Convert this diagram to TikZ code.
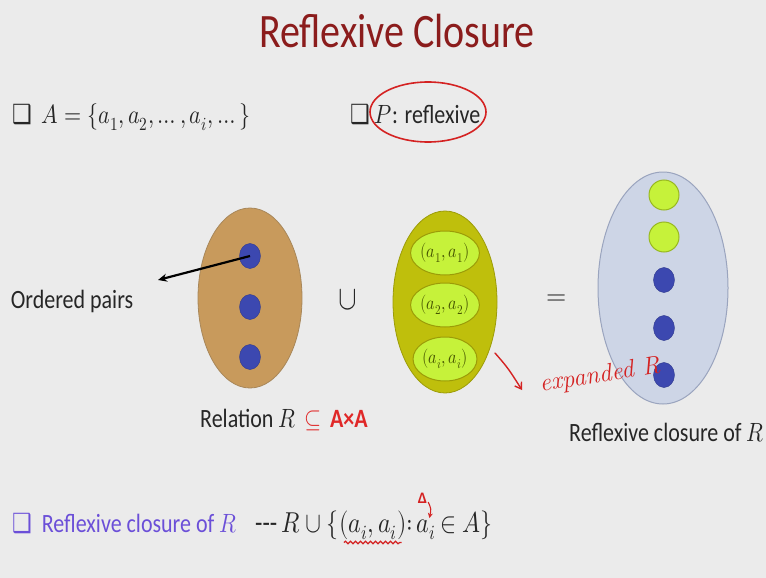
\documentclass[tikz,border=0pt]{standalone}
\usepackage{graphicx}
\usepackage{unicode-math}
\setmainfont{Carlito}
\setmathfont{Latin Modern Math}
\newfontfamily\dejavu{DejaVu Sans}
\newfontfamily\lmhand{Latin Modern Roman}
\usetikzlibrary{arrows.meta,shapes.geometric,decorations.pathmorphing}
\definecolor{bg}{HTML}{EBEBEB}
\definecolor{titlered}{HTML}{8B1C1C}
\definecolor{tanfill}{HTML}{C89A5C}
\definecolor{tanline}{HTML}{A8875A}
\definecolor{dotblue}{HTML}{3C48B0}
\definecolor{olivefill}{HTML}{BFBF0C}
\definecolor{oliveline}{HTML}{9C9C08}
\definecolor{limefill}{HTML}{C6F23A}
\definecolor{limeline}{HTML}{98B820}
\definecolor{olivetext}{HTML}{465500}
\definecolor{bluefill}{HTML}{CDD5E6}
\definecolor{blueline}{HTML}{9AA4BE}
\definecolor{handred}{HTML}{D42222}
\definecolor{relred}{HTML}{E02828}
\definecolor{purp}{HTML}{6B4FD8}
\definecolor{txt}{HTML}{262626}
\newcommand{\vs}[1]{\scalebox{1}[1.2]{#1}}
\newcommand{\bx}{{\dejavu ❑}}
\begin{document}
\begin{tikzpicture}[x=1pt,y=-1pt,
  lbl/.style={inner sep=0pt, text=txt, font=\fontsize{22}{26}\selectfont},
  fml/.style={inner sep=0pt, text=txt, font=\fontsize{24}{28}\selectfont, anchor=base west},
  bigell/.style={ellipse, inner sep=0pt, line width=0.8pt},
  bdot/.style={ellipse, inner sep=0pt, fill=dotblue, draw=dotblue!80!black, line width=0.4pt, minimum width=21pt, minimum height=25pt},
  ldot/.style={ellipse, inner sep=0pt, fill=limefill, draw=limeline, line width=1pt, minimum width=30pt, minimum height=30pt},
  pairell/.style={ellipse, inner sep=0pt, fill=limefill, draw=oliveline, line width=1pt, minimum width=56pt, minimum height=44pt, text=olivetext, font=\fontsize{16}{18}\selectfont},
  hand/.style={handred, line width=1.4pt, line cap=round}]
\fill[bg] (0,0) rectangle (766,578);
\useasboundingbox (0,0) rectangle (766,578);

% title
\node[lbl, text=titlered, font=\fontsize{40}{44}\selectfont] (title) at (397,31) {\vs{Reflexive Closure}};

% top line
\node[lbl, anchor=base west] (setA) at (12,124) {\vs{\bx\ \ $A=\{a_1,a_2,\dots,a_i,\dots\}$}};
\node[lbl, anchor=base west] (propP) at (350,123) {\vs{\bx\ $P$: reflexive}};
\node[ellipse, draw=handred, line width=1.6pt, minimum width=116pt, minimum height=60pt, inner sep=0pt] (circP) at (428,112) {};

% relation R
\node[bigell, fill=tanfill, draw=tanline, minimum width=104pt, minimum height=180pt] (R) at (250,298) {};
\node[bdot] (r1) at (250,256) {};
\node[bdot] (r2) at (250,307) {};
\node[bdot] (r3) at (250,357) {};

\node[lbl] (op) at (72,301) {\vs{Ordered pairs}};
\coordinate (optip) at (158,280);
\draw[line width=2.2pt, -{Stealth[length=9pt,width=8pt]}] (r1.center) -- (optip);

\node[lbl, font=\fontsize{28}{30}\selectfont] (cupsym) at (348,300) {\vs{$\cup$}};

% diagonal pairs
\node[bigell, fill=olivefill, draw=oliveline, minimum width=104pt, minimum height=182pt] (D) at (445,302) {};
\node[pairell] (p1) at (445,253) {\vs{$(a_1,a_1)$}};
\node[pairell] (p2) at (445,305) {\vs{$(a_2,a_2)$}};
\node[pairell] (p3) at (445,359) {\vs{$(a_i,a_i)$}};

\node[lbl, font=\fontsize{26}{28}\selectfont] (eqsym) at (557,300) {$=$};

% closure
\node[bigell, fill=bluefill, draw=blueline, line width=1pt, minimum width=130pt, minimum height=232pt] (C) at (663,288) {};
\node[ldot] (c1) at (664,195) {};
\node[ldot] (c2) at (664,237) {};
\node[bdot] (c3) at (664,280) {};
\node[bdot] (c4) at (664,328) {};
\node[bdot] (c5) at (664,375) {};

% labels under
\node[lbl, anchor=base west] (rel) at (200,427) {\vs{Relation $R$\, {\color{relred}$\subseteq$\, \textbf{A×A}}}};
\node[lbl, anchor=west] (clos) at (569,433) {\vs{Reflexive closure of $R$}};

% expanded R
\coordinate (ea1) at (495,353);
\coordinate (ea2) at (522,390);
\draw[hand, -{Straight Barb[length=6pt,width=8pt]}] (ea1) .. controls (508,368) .. (ea2);
\node[inner sep=0pt, text=handred, font=\lmhand\itshape\fontsize{25}{27}\selectfont, rotate=9] (exp) at (600,376) {expanded R};

% bottom line
\node[lbl, anchor=base west, text=purp] (bot) at (12,532) {\vs{\bx\ \ Reflexive closure of $R$}};
\node[fml] (f1) at (255,532) {\vs{{-}{-}{-}\,$R\cup\{$}};
\node[fml] (f2) at (f1.base east) {\vs{$(a_i,a_i)$}};
\node[fml] (f3) at (f2.base east) {\vs{$:$}};
\node[fml] (f4) at ([xshift=3pt]f3.base east) {\vs{$a_i$}};
\node[fml] (f5) at (f4.base east) {\vs{$\,\in A\}$}};
\draw[handred, line width=1.2pt, decorate, decoration={snake, amplitude=1.3pt, segment length=5pt}] ([xshift=5pt,yshift=-3pt]f2.south west) -- ([xshift=-5pt,yshift=-3pt]f2.south east);
\node[inner sep=0pt, text=handred, font=\bfseries\fontsize{16}{18}\selectfont, anchor=south] (delta) at ([xshift=-4pt,yshift=15pt]f4.north) {Δ};
\draw[handred, line width=1.1pt, -{Stealth[length=5pt,width=5pt]}] ([xshift=1pt,yshift=2pt]delta.south east) .. controls ([xshift=4pt,yshift=-5pt]delta.south east) .. ([xshift=3pt,yshift=1pt]f4.north);
\end{tikzpicture}
\end{document}
